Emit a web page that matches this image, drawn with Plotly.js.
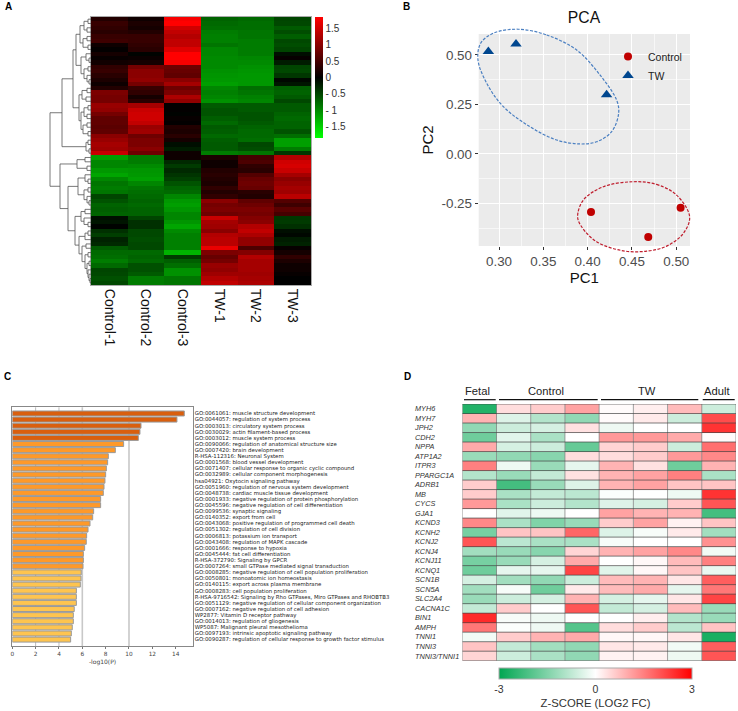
<!DOCTYPE html>
<html><head><meta charset="utf-8">
<script src="https://cdn.plot.ly/plotly-3.0.1.min.js"></script>
<style>html,body{margin:0;padding:0;background:#fff}</style></head>
<body><div id="g" style="width:738px;height:711px"></div>
<script>
// ---------- Panel A: expression heatmap ----------
const sampleLabels = ['Control-1','Control-2','Control-3','TW-1','TW-2','TW-3'];
const control1 = [.25,.4,.35,.3,.4,.45,.1,.02,.15,.05,.12,.35,.4,.3,.2,.1,.25,.9,.85,.85,1.1,1.05,.85,.7,.7,.65,.7,1,1.1,1.2,1.15,1.45,
 -1.15,-.97,-.97,-1.1,-1.2,-.97,-.85,-.9,-.85,-.5,-.6,-.72,-.68,-.72,-.1,-.15,-.02,-.35,-.45,-.25,-.3,-.65,-.76,-.8,-.9,-.76,-.5,-.52,-.58,-.52];
const control2 = [.1,.2,.15,.25,.4,.4,.35,.3,-.02,.08,.15,.85,1,1,1.05,.85,.4,.35,.15,.3,1.2,1.45,1.5,1.5,1.4,1.1,1.15,.8,.9,.9,1,.8,
 -.9,-.9,-1,-1.08,-1.1,-1.15,-.97,-.85,-.8,-.76,-.72,-.76,-.72,-.72,-.5,-.35,-.35,-.52,-.52,-.56,-.52,-.52,-.76,-.72,-.76,-.58,-.58,-.65,-.9,-.9];
const control3 = [1.8,1.85,1.5,1.4,1.3,1.4,1.4,1.6,1.85,1.85,1.8,.8,.75,.7,1,1.2,.8,.9,1.25,1.05,.02,.02,-.02,.05,.02,.25,.2,.3,.15,-.1,-.2,.1,
 .1,-.3,-.42,-.3,-.38,-.46,-.6,-.72,-.76,-.97,-1.1,-1.15,-1.08,-.97,-.97,-1.08,-1.2,-1,-.93,-.93,-.93,-.93,-1.3,-.42,-.68,-.8,-1.05,-1.05,-.85,-.85];
const tw1 = [-.72,-.76,-.8,-.9,-.93,-.93,-.85,-.97,-.97,-1,-1,-1,-1.05,-1.08,-1.1,-1.15,-.97,-.93,-.97,-1.05,-.65,-.6,-.6,-.68,-.76,-.65,-.68,-.76,-.68,-.65,-.65,-.9,
 .2,.1,.1,.25,.3,.25,.2,.35,.25,.35,1,.85,.9,.8,1.45,1.2,1.15,1,1.3,1.35,1.35,1.7,.9,.75,.85,1.1,1.05,1.15,1.3,1.4];
const tw2 = [-.76,-.8,-.8,-.85,-.85,-.9,-.9,-.9,-.9,-.97,-1,-1.05,-1.08,-1.1,-1.1,-1.1,-.8,-.85,-.93,-.97,-.65,-.65,-.6,-.6,-.65,-.72,-.76,-.76,-.8,-.52,-.56,-.85,
 .5,.55,.35,.3,.6,.75,.8,.75,.3,.25,.7,.8,.9,.85,.95,1,1.3,1.4,1.25,1.05,1.05,.55,.95,1.3,1.2,1.2,1.2,1.15,1.2,1.25];
const tw3 = [-.5,-.52,-.65,-.56,-.68,-.52,-.56,-.5,-.1,.05,-.2,-.5,-.52,-.4,-.05,-.15,-.68,-.72,-.65,-.52,-.65,-.65,-.72,-.76,-.72,-.72,-.6,-.8,-1.15,-1.15,-.9,-.4,
 1.3,1.5,1.55,1.45,1.2,1,1.1,1.2,1.15,1.35,.6,.45,.65,.5,-.4,-.42,-.35,-.1,-.05,-.2,-.25,.05,.15,.35,.2,.1,.1,.05,0,0];
const heatColorbarTicks = [1.5,1,.5,0,-.5,-1,-1.5];
const heatColorbarText = ['1.5','1','0.5','0','- 0.5','- 1','- 1.5'];
// Dendrogram: [height, child, child]; a plain number is a heatmap row
const dendroTree = [41,
 [29,
  [18,
   [15,
    [11,[7,[3,0,1],[4,2,3]],[8,[4,4,5],[3,6,7]]],
    [10,[5,8,[2,9,10]],[7,[3,11,12],[4,13,[2,14,15]]]]
   ],
   [12,
    [9,[4,16,17],[5,18,19]],
    [10,[7,[3,20,21],[4,22,23]],[8,[4,24,25],[3,26,27]]]
   ]
  ],
  [5,[3,28,29],[2,30,31]]
 ],
 [31,
  [14,[6,32,33],[4,34,35]],
  [23,
   [13,[6,36,[3,37,38]],[7,[3,39,40],[4,41,[2,42,43]]]],
   [16,
    [10,[6,44,45],[7,46,[3,47,48]]],
    [12,[6,[3,49,50],51],[9,[5,52,53],[6,[3,54,55],[4,[2,56,57],[3,58,[2,59,[1,60,61]]]]]]]
   ]
  ]
 ]
];
// ---------- Panel B: PCA ----------
const controlPC1 = [.4038,.4684,.5049];
const controlPC2 = [-.2946,-.4211,-.2727];
const twPC1 = [.288,.3192,.4214];
const twPC2 = [.517,.5557,.299];
const twRingX = [.3218,.3538,.3876,.4139,.4327,.4350,.4271,.4102,.3914,.3650,.3350,.3049,.2861,.2763,.2793,.2936,.3218];
const twRingY = [.630,.601,.525,.399,.272,.205,.112,.061,.050,.070,.137,.239,.357,.475,.559,.610,.630];
const controlRingX = [.4519,.4778,.5004,.5151,.5079,.4891,.4666,.4402,.4102,.3932,.3887,.3951,.4177,.4519];
const controlRingY = [-.141,-.1546,-.2085,-.3182,-.4025,-.4667,-.4920,-.4903,-.4447,-.3688,-.3182,-.2339,-.1664,-.141];
// ---------- Panel C: enrichment bars ----------
const termLabels = ['GO:0061061: muscle structure development','GO:0044057: regulation of system process','GO:0003013: circulatory system process','GO:0030029: actin filament-based process','GO:0003012: muscle system process','GO:0090066: regulation of anatomical structure size','GO:0007420: brain development','R-HSA-112316: Neuronal System','GO:0001568: blood vessel development','GO:0071407: cellular response to organic cyclic compound','GO:0032989: cellular component morphogenesis','hsa04921: Oxytocin signaling pathway','GO:0051960: regulation of nervous system development','GO:0048738: cardiac muscle tissue development','GO:0001933: negative regulation of protein phosphorylation','GO:0045596: negative regulation of cell differentiation','GO:0099536: synaptic signaling','GO:0140352: export from cell','GO:0043068: positive regulation of programmed cell death','GO:0051302: regulation of cell division','GO:0006813: potassium ion transport','GO:0043408: regulation of MAPK cascade','GO:0001666: response to hypoxia','GO:0045444: fat cell differentiation','R-HSA-372790: Signaling by GPCR','GO:0007264: small GTPase mediated signal transduction','GO:0008285: negative regulation of cell population proliferation','GO:0050801: monoatomic ion homeostasis','GO:0140115: export across plasma membrane','GO:0008283: cell population proliferation','R-HSA-9716542: Signaling by Rho GTPases, Miro GTPases and RHOBTB3','GO:0051129: negative regulation of cellular component organization','GO:0007162: negative regulation of cell adhesion','WP2877: Vitamin D receptor pathway','GO:0014013: regulation of gliogenesis','WP5087: Malignant pleural mesothelioma','GO:0097193: intrinsic apoptotic signaling pathway','GO:0090287: regulation of cellular response to growth factor stimulus'];
const logP = [14.74,14.11,11.03,10.94,10.8,9.54,8.83,8.23,8.17,8.06,8,7.94,7.86,7.8,7.57,7.57,6.97,6.89,6.66,6.49,6.37,6.34,6.2,6.09,6.09,6.06,5.91,5.89,5.83,5.49,5.49,5.49,5.31,5.23,5.23,5.14,5.06,5];
const barColors = logP.map((v,i)=> i<5 ? '#d95f0e' : i<26 ? '#fe9929' : '#fec44f');
const logPTicks = [0,2,4,6,8,10,12,14];
const logPGrid = [2,4,6,10];
// ---------- Panel D: z-score heatmap ----------
const geneLabels = ['MYH6','MYH7','JPH2','CDH2','NPPA','ATP1A2','ITPR3','PPARGC1A','ADRB1','MB','CYCS','GJA1','KCND3','KCNH2','KCNJ2','KCNJ4','KCNJ11','KCNQ1','SCN1B','SCN5A','SLC2A4','CACNA1C','BIN1','AMPH','TNNI1','TNNI3','TNNI3/TNNI1'];
const fetal = [-2.6,.9,-1.3,-1.7,1,-1.2,1.5,-.9,.6,.6,1.2,0,1.4,-1.6,2,-1.1,-1.6,-1.7,-.5,-1.1,-1.2,-.7,2.5,1.6,-.15,.7,.5];
const ctrlA = [.4,-.4,-.6,-.35,-.5,-1.3,-.2,-1.2,-2.2,-1,-1,-.35,-1,.7,-.8,-1.2,-1.2,-.3,-1.1,-.1,-.6,.6,-.1,-.05,.6,-.7,-.6];
const ctrlB = [.6,-.9,-.5,-1,-.6,-1.4,-1.2,-.7,-1.2,-.7,-.6,-.2,-1.5,.7,-1,-1.4,-.5,-.3,-1.3,-1.7,-.5,0,-.2,-.2,.9,-1.1,-1];
const ctrlC = [1.1,-1.3,.35,0,-1.8,.4,-.3,.35,-.4,-.8,-.9,0,-1.2,1.8,-1,.5,1,2.2,-.6,.25,.9,2,0,-2,1,-1.3,-1.3];
const twA = [.05,.05,-.2,1.2,.5,.4,.9,.9,.9,-.05,-.4,1.1,.6,-.4,-.1,.9,0,-.35,.8,.8,-.5,-.7,0,.4,.1,.3,.15];
const twB = [.2,.25,0,1.2,.6,.6,.35,1.1,1.1,0,-.5,.9,1.1,-.1,0,1.1,.1,.1,.9,1,-.3,-.5,.2,.6,.1,.25,.15];
const twC = [.8,-.6,0,1,-.6,1.2,-1.7,1.5,.7,-.2,.6,.9,.15,.25,0,1.4,.8,.7,.3,-.3,.3,.8,-.9,-.8,.3,-.15,-.2];
const adult = [-.6,2.1,2.4,.05,1.7,1.4,.9,-1,.7,2.4,2,-2.2,.7,-1.1,1.3,-.15,1.5,-.25,1.9,1.6,2.2,-1.2,-1.2,.7,-2.7,1.9,2];
const columnKeys = ['Fetal','Control 1','Control 2','Control 3','TW 1','TW 2','TW 3','Adult'];
const groupNames = ['Fetal','Control','TW','Adult'];
const zTicks = [-3,0,3];

// ---------- helpers ----------
const W=738, H=711, fx=p=>p/W, fy=p=>1-p/H;
const dom=(a,b)=>[fx(a),fx(b)], domY=(top,bot)=>[fy(bot),fy(top)];
const transpose=cols=>cols[0].map((_,r)=>cols.map(c=>c[r]));
const dx=[], dy=[];
function walk(n){
  if(typeof n==='number') return {h:0,y:n};
  const a=walk(n[1]), b=walk(n[2]), y=(a.y+b.y)/2, h=n[0];
  dx.push(a.h,h,h,b.h,null); dy.push(a.y,a.y,b.y,b.y,null);
  return {h,y};
}
walk(dendroTree);
const hx=[],hy=[],vx=[],vy=[];
geneLabels.forEach((_,i)=>{hx.push(-.5,7.5,null);hy.push(i-.5,i-.5,null);});
hx.push(-.5,7.5,null);hy.push(26.5,26.5,null);
columnKeys.forEach((_,i)=>{vx.push(i-.5,i-.5,null);vy.push(-.5,26.5,null);});
vx.push(7.5,7.5,null);vy.push(-.5,26.5,null);

const traces=[
 {type:'heatmap',xaxis:'x',yaxis:'y',z:transpose([control1,control2,control3,tw1,tw2,tw3]),x:sampleLabels,
  zmin:-1.85,zmax:1.85,colorscale:[[0,'#00ff00'],[.5,'#000000'],[1,'#ff0000']],zsmooth:false,
  colorbar:{x:fx(315),xanchor:'left',xpad:0,y:fy(17),yanchor:'top',ypad:0,lenmode:'pixels',len:121,thicknessmode:'pixels',thickness:8,
   outlinewidth:0,ticks:'',tickmode:'array',tickvals:heatColorbarTicks,ticktext:heatColorbarText,
   tickfont:{family:'Liberation Sans',size:10,color:'#333'},ticklabelposition:'outside'}},
 {type:'scatter',mode:'lines',xaxis:'x2',yaxis:'y2',x:dx,y:dy,line:{color:'#555',width:.8},showlegend:false,hoverinfo:'skip'},
 {type:'scatter',mode:'markers',name:'Control',xaxis:'x3',yaxis:'y3',x:controlPC1,y:controlPC2,marker:{symbol:'circle',size:8,color:'#c00000'},cliponaxis:false},
 {type:'scatter',mode:'markers',name:'TW',xaxis:'x3',yaxis:'y3',x:twPC1,y:twPC2,marker:{symbol:'triangle-up',size:10,color:'#00478f'},cliponaxis:false},
 {type:'bar',orientation:'h',xaxis:'x4',yaxis:'y4',x:logP,y:termLabels.map((_,i)=>i),width:.82,
  marker:{color:barColors,line:{color:'#9a9a9a',width:1}},showlegend:false},
 {type:'heatmap',xaxis:'x5',yaxis:'y5',z:transpose([fetal,ctrlA,ctrlB,ctrlC,twA,twB,twC,adult]),
  zmin:-3,zmax:3,colorscale:[[0,'#00a651'],[.5,'#ffffff'],[1,'#ff0000']],zsmooth:false,
  colorbar:{orientation:'h',x:fx(499),xanchor:'left',xpad:0,y:fy(668),yanchor:'top',ypad:0,lenmode:'pixels',len:193,thicknessmode:'pixels',thickness:11,
   outlinewidth:1,outlinecolor:'#aaa',ticks:'',tickvals:zTicks,ticktext:zTicks.map(String),
   tickfont:{family:'Liberation Sans',size:10.5,color:'#333'},
   title:{text:'Z-SCORE (LOG2 FC)',side:'bottom',font:{family:'Liberation Sans',size:11.3,color:'#333'}}}},
 {type:'scatter',mode:'lines',xaxis:'x5',yaxis:'y5',x:vx,y:vy,line:{color:'#888',width:.8},showlegend:false,hoverinfo:'skip'},
 {type:'scatter',mode:'lines',xaxis:'x5',yaxis:'y5',x:hx,y:hy,line:{color:'#444',width:.7},showlegend:false,hoverinfo:'skip'},
 {type:'scatter',mode:'lines',xaxis:'x6',yaxis:'y6',x:twRingX,y:twRingY,line:{color:'#4a7fc1',width:1.2,dash:'3px,1.5px',shape:'spline'},showlegend:false,hoverinfo:'skip'},
 {type:'scatter',mode:'lines',xaxis:'x6',yaxis:'y6',x:controlRingX,y:controlRingY,line:{color:'#bf1e2e',width:1.2,dash:'3px,1.5px',shape:'spline'},showlegend:false,hoverinfo:'skip'}
];

const letter=(t,x,y)=>({text:'<b>'+t+'</b>',xref:'paper',yref:'paper',x:fx(x),y:fy(y),xanchor:'left',yanchor:'middle',showarrow:false,font:{family:'Liberation Sans',size:10,color:'#000'}});
const bar=(a,b)=>({type:'line',xref:'paper',yref:'paper',x0:fx(a),x1:fx(b),y0:fy(399.7),y1:fy(399.7),line:{color:'#111',width:1.2}});
const hdr=(t,x)=>({text:t,xref:'paper',yref:'paper',x:fx(x),y:fy(390.5),xanchor:'center',yanchor:'middle',showarrow:false,font:{family:'Liberation Sans',size:11.2,color:'#222'}});

const layout={
 width:W,height:H,margin:{l:0,r:0,t:0,b:0},paper_bgcolor:'#fff',plot_bgcolor:'rgba(0,0,0,0)',
 font:{family:'Liberation Sans'},
 title:{text:'PCA',x:fx(584),xanchor:'center',y:fy(18),yanchor:'middle',font:{family:'Liberation Sans',size:15.7,color:'#111'}},
 showlegend:true,
 legend:{x:fx(608),y:fy(42),xanchor:'left',yanchor:'top',bgcolor:'rgba(0,0,0,0)',font:{family:'Liberation Sans',size:10.5,color:'#222'}},
 xaxis:{domain:dom(91,311),anchor:'y',side:'bottom',type:'category',tickangle:90,ticks:'',ticklen:0,showline:true,mirror:true,linecolor:'#aaa',linewidth:1,
  tickfont:{family:'Liberation Sans',size:14,color:'#111'}},
 yaxis:{domain:domY(17,285),anchor:'x',range:[61.5,-.5],showticklabels:false,ticks:'',showgrid:false,zeroline:false,showline:true,linecolor:'#aaa',linewidth:1,mirror:true},
 xaxis2:{domain:dom(49,91),anchor:'y2',range:[42,0],visible:false},
 yaxis2:{domain:domY(17,285),anchor:'x2',range:[61.5,-.5],visible:false},
 xaxis3:{domain:dom(478.7,690),anchor:'y3',range:[.2771,.5155],tickvals:[.3,.35,.4,.45,.5],ticktext:['0.30','0.35','0.40','0.45','0.50'],
  ticks:'outside',ticklen:3,tickcolor:'#333',tickfont:{family:'Liberation Sans',size:13.4,color:'#4d4d4d'},showgrid:true,gridcolor:'#fff',gridwidth:1,zeroline:false,
  minor:{tickvals:[.325,.375,.425,.475],showgrid:true,gridcolor:'#fff',gridwidth:.6,ticks:''},
  title:{text:'PC1',standoff:2,font:{family:'Liberation Sans',size:15,color:'#111'}}},
 yaxis3:{domain:domY(34,246),anchor:'x3',range:[-.466,.606],tickvals:[-.25,0,.25,.5],ticktext:['-0.25','0.00','0.25','0.50'],
  ticks:'outside',ticklen:3,tickcolor:'#333',tickfont:{family:'Liberation Sans',size:13.4,color:'#4d4d4d'},showgrid:true,gridcolor:'#fff',gridwidth:1,zeroline:false,
  minor:{tickvals:[-.375,-.125,.125,.375],showgrid:true,gridcolor:'#fff',gridwidth:.6,ticks:''},
  title:{text:'PC2',standoff:4,font:{family:'Liberation Sans',size:15,color:'#111'}}},
 xaxis4:{domain:dom(12.3,192.7),anchor:'y4',range:[0,15.46],tickvals:logPTicks,ticks:'outside',ticklen:2,tickcolor:'#777',showline:true,linecolor:'#888',linewidth:1,mirror:true,showgrid:false,zeroline:false,
  tickfont:{family:'DejaVu Sans',size:5.8,color:'#444'},
  title:{text:'-log10(P)',standoff:3,font:{family:'DejaVu Sans',size:6,color:'#444'}}},
 yaxis4:{domain:domY(407.3,646),anchor:'x4',side:'right',range:[38.05,-1.01],tickvals:termLabels.map((_,i)=>i),ticktext:termLabels,ticks:'',showline:true,linecolor:'#888',linewidth:1,mirror:true,showgrid:false,zeroline:false,
  tickfont:{family:'DejaVu Sans',size:5.4,color:'#222'}},
 xaxis5:{domain:dom(462.3,736),anchor:'y5',range:[-.5,7.5],showticklabels:false,ticks:'',showgrid:false,zeroline:false},
 yaxis5:{domain:domY(404,660.7),anchor:'free',position:fx(414),side:'right',range:[26.5,-.5],tickvals:geneLabels.map((_,i)=>i),ticktext:geneLabels.map(g=>'<i>'+g+'</i>'),ticks:'',showgrid:false,zeroline:false,showline:false,
  tickfont:{family:'Liberation Sans',size:7.3,color:'#333'}},
 // same scale as the PCA axes with a wider window, so the rings may run past the grey panel
 xaxis6:{domain:dom(466.7,702),anchor:'y6',range:[.26356,.52904],visible:false},
 yaxis6:{domain:domY(19,261),anchor:'x6',range:[-.5418,.6818],visible:false},
 shapes:[
  {type:'rect',xref:'x3 domain',yref:'y3 domain',x0:0,x1:1,y0:0,y1:1,fillcolor:'#ebebeb',line:{width:0},layer:'below'},
  ...logPGrid.map(v=>({type:'line',xref:'x4',yref:'y4 domain',x0:v,x1:v,y0:0,y1:1,layer:'below',line:{color:v>4?'#c8c8c8':'#bbb',width:v>4?1.6:1}})),
  bar(464,495.7),bar(499,597.7),bar(601,698.3),bar(702.7,734.7)
 ],
 annotations:[
  letter('A',3,6),letter('B',401,6),letter('C',2,376),letter('D',402,376),
  hdr(groupNames[0],477),hdr(groupNames[1],545.5),hdr(groupNames[2],647),hdr(groupNames[3],717)
 ]
};
Plotly.newPlot('g',traces,layout,{displayModeBar:false,staticPlot:true});
</script></body></html>
